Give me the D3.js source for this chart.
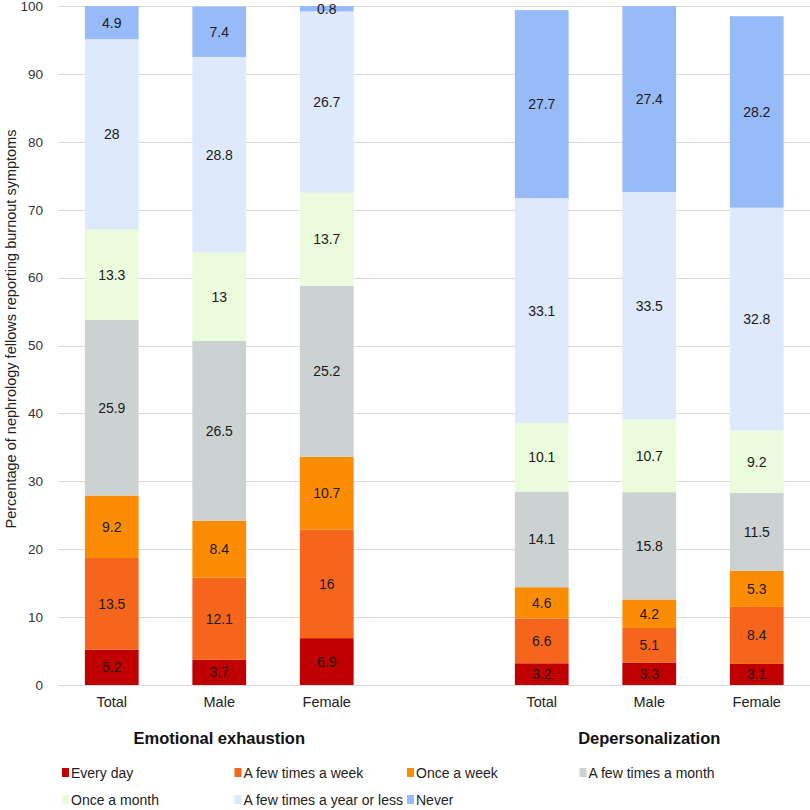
<!DOCTYPE html>
<html>
<head>
<meta charset="utf-8">
<script src="https://cdn.jsdelivr.net/npm/d3@7"></script>
<style>
  html, body { margin: 0; padding: 0; background: #fff; }
  svg { display: block; font-family: "Liberation Sans", Arial, sans-serif; }
</style>
</head>
<body>
<svg id="chart" width="810" height="810"></svg>
<script>
// ---- Data ----
const groups = ["Emotional exhaustion", "Depersonalization"];
const subCategories = ["Total", "Male", "Female"];
const slots = ["EE-Total", "EE-Male", "EE-Female", "gap", "DP-Total", "DP-Male", "DP-Female"];
const seriesNames = ["Every day", "A few times a week", "Once a week", "A few times a month",
                     "Once a month", "A few times a year or less", "Never"];
const seriesColors = ["#c00000", "#f5661c", "#fd8c05", "#cbd2d1", "#ebfcdc", "#dee9fb", "#97bbf8"];
// values per series: EE Total, EE Male, EE Female, DP Total, DP Male, DP Female
const everyDay        = [5.2, 3.7, 6.9, 3.2, 3.3, 3.1];
const fewTimesWeek    = [13.5, 12.1, 16, 6.6, 5.1, 8.4];
const onceWeek        = [9.2, 8.4, 10.7, 4.6, 4.2, 5.3];
const fewTimesMonth   = [25.9, 26.5, 25.2, 14.1, 15.8, 11.5];
const onceMonth       = [13.3, 13, 13.7, 10.1, 10.7, 9.2];
const fewTimesYear    = [28, 28.8, 26.7, 33.1, 33.5, 32.8];
const never           = [4.9, 7.4, 0.8, 27.7, 27.4, 28.2];
const yTicks = [0, 10, 20, 30, 40, 50, 60, 70, 80, 90, 100];
const yTitle = "Percentage of nephrology fellows reporting burnout symptoms";

(function () {
const seriesValues = [everyDay, fewTimesWeek, onceWeek, fewTimesMonth, onceMonth, fewTimesYear, never];
const barSlots = slots.filter(s => s !== "gap");

const table = barSlots.map((slot, i) => {
  const row = { slot };
  seriesNames.forEach((n, k) => row[n] = seriesValues[k][i]);
  return row;
});

const svg = d3.select("#chart");
const mLeft = 58, mRight = 810.5, mTop = 6, mBottom = 685;

const x = d3.scaleBand().domain(slots).range([mLeft, mRight]).paddingInner(0.5).paddingOuter(0.25);
const y = d3.scaleLinear().domain([0, 100]).range([mBottom, mTop]);
const color = d3.scaleOrdinal().domain(seriesNames).range(seriesColors);

// gridlines
svg.append("g").selectAll("line").data(yTicks).join("line")
  .attr("x1", mLeft).attr("x2", mRight)
  .attr("y1", d => Math.round(y(d)) + 0.5).attr("y2", d => Math.round(y(d)) + 0.5)
  .attr("stroke", "#d9d9d9").attr("stroke-width", 1);

// y axis labels
const yAxis = d3.axisLeft(y).tickValues(yTicks).tickSize(0).tickPadding(0);
const yg = svg.append("g").attr("transform", `translate(${mLeft - 15},0)`).call(yAxis);
yg.select(".domain").remove();
yg.selectAll("text").attr("font-size", 13.5).attr("fill", "#333")
  .attr("font-family", "'Liberation Sans', Arial, sans-serif");

// y title
svg.append("text")
  .attr("transform", `translate(11,329) rotate(-90)`)
  .attr("text-anchor", "middle").attr("dominant-baseline", "central")
  .attr("font-size", 14.5).attr("fill", "#222")
  .text(yTitle);

// stacks
const stacked = d3.stack().keys(seriesNames)(table);

const layers = svg.append("g").selectAll("g").data(stacked).join("g")
  .attr("fill", d => color(d.key));
layers.selectAll("rect").data(d => d).join("rect")
  .attr("x", d => x(d.data.slot))
  .attr("width", x.bandwidth())
  .attr("y", d => y(d[1]))
  .attr("height", d => y(d[0]) - y(d[1]));

// value labels
const labels = svg.append("g");
stacked.forEach(layer => {
  layer.forEach(d => {
    labels.append("text")
      .attr("x", x(d.data.slot) + x.bandwidth() / 2)
      .attr("y", y((d[0] + d[1]) / 2))
      .attr("text-anchor", "middle").attr("dominant-baseline", "central")
      .attr("font-size", 14).attr("fill", "#1a1a1a")
      .text(d.data[layer.key]);
  });
});

// category labels
const xAxis = d3.axisBottom(x).tickValues(barSlots).tickSize(0).tickPadding(0)
  .tickFormat(s => s.split("-")[1]);
const xg = svg.append("g").attr("transform", `translate(0,${mBottom + 12})`).call(xAxis);
xg.select(".domain").remove();
xg.selectAll("text").attr("font-size", 14.5).attr("fill", "#222")
  .attr("font-family", "'Liberation Sans', Arial, sans-serif");

// group labels
const groupCenters = [x("EE-Male") + x.bandwidth() / 2, x("DP-Male") + x.bandwidth() / 2];
svg.append("g").selectAll("text").data(groups).join("text")
  .attr("x", (d, i) => groupCenters[i]).attr("y", 738)
  .attr("text-anchor", "middle").attr("dominant-baseline", "central")
  .attr("font-size", 16.5).attr("font-weight", "bold").attr("fill", "#111")
  .text(d => d);

// legend
const legendX = [62, 234.5, 407, 579.5];
const legendY = [773, 800];
const lg = svg.append("g").selectAll("g").data(seriesNames).join("g")
  .attr("transform", (d, i) => `translate(${legendX[i % 4]},${legendY[Math.floor(i / 4)]})`);
lg.append("rect").attr("x", 0).attr("y", -5).attr("width", 7).attr("height", 9)
  .attr("fill", d => color(d));
lg.append("text").attr("x", 9).attr("y", 0).attr("dominant-baseline", "central")
  .attr("font-size", 14).attr("fill", "#222").text(d => d);
})();
</script>
</body>
</html>
